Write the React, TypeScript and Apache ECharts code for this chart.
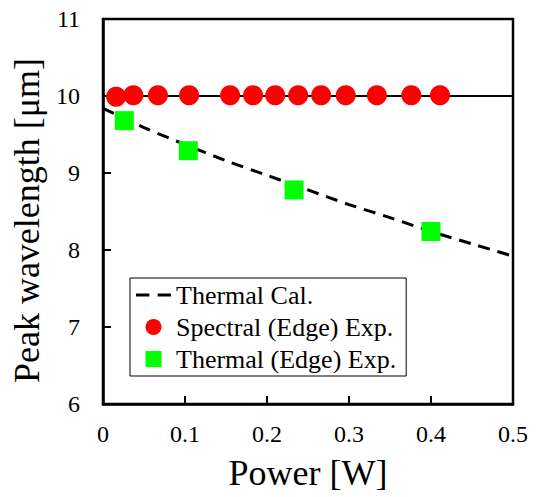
import React, { useEffect, useRef } from "react";
import * as echarts from "echarts";

// Data
const spectralPower = [0.016, 0.037, 0.067, 0.105, 0.155, 0.183, 0.21, 0.238, 0.266, 0.296, 0.334, 0.376, 0.411];
const spectralPeak = [9.99, 10.01, 10.01, 10.01, 10.01, 10.01, 10.01, 10.01, 10.01, 10.01, 10.01, 10.01, 10.01];

const thermalExpPower = [0.026, 0.104, 0.233, 0.4];
const thermalExpPeak = [9.68, 9.29, 8.78, 8.24];

const calPower = [0, 0.05, 0.1, 0.15, 0.2, 0.25, 0.3, 0.35, 0.4, 0.45, 0.5];
const calPeak = [9.84, 9.59, 9.37, 9.16, 8.97, 8.78, 8.59, 8.42, 8.24, 8.08, 7.92];

const refPower = [0, 0.5];
const refPeak = [10, 10];

const xTicks = [0, 0.1, 0.2, 0.3, 0.4, 0.5];
const yTicks = [6, 7, 8, 9, 10, 11];

const seriesNames = ["Thermal Cal.", "Spectral (Edge) Exp.", "Thermal (Edge) Exp."];

const FONT = "Liberation Serif";

export default function App() {
  const ref = useRef<HTMLDivElement>(null);

  useEffect(() => {
    document.body.style.margin = "0";
    if (!ref.current) return;
    const chart = echarts.init(ref.current, undefined, { renderer: "svg" });
    const zip = (xs: number[], ys: number[]) => xs.map((x, i) => [x, ys[i]]);
    chart.setOption({
      animation: false,
      backgroundColor: "#ffffff",
      textStyle: { fontFamily: FONT },
      grid: {
        left: 103,
        top: 19,
        right: 26,
        bottom: 93,
        show: true,
        borderColor: "#000",
        borderWidth: 2.5,
        containLabel: false,
      },
      xAxis: {
        type: "value",
        min: xTicks[0],
        max: xTicks[xTicks.length - 1],
        interval: 0.1,
        name: "Power [W]",
        nameLocation: "middle",
        nameGap: 51,
        nameTextStyle: { fontFamily: FONT, fontSize: 36, color: "#000" },
        axisLine: { show: true, onZero: false, lineStyle: { color: "#000", width: 2.5 } },
        axisTick: { show: true, inside: true, length: 8, lineStyle: { color: "#000", width: 2 } },
        axisLabel: {
          fontFamily: FONT,
          fontSize: 24,
          color: "#000",
          margin: 18,
          formatter: (v: number) => String(Math.round(v * 10) / 10),
        },
        splitLine: { show: false },
      },
      yAxis: {
        type: "value",
        min: yTicks[0],
        max: yTicks[yTicks.length - 1],
        interval: 1,
        name: "Peak wavelength [μm]",
        nameLocation: "middle",
        nameGap: 53,
        nameTextStyle: { fontFamily: FONT, fontSize: 36, color: "#000", padding: [0, 18, 0, 0] },
        axisLine: { show: true, onZero: false, lineStyle: { color: "#000", width: 2.5 } },
        axisTick: { show: true, inside: true, length: 8, lineStyle: { color: "#000", width: 2 } },
        axisLabel: { fontFamily: FONT, fontSize: 24, color: "#000", margin: 23 },
        splitLine: { show: false },
      },
      legend: {
        orient: "vertical",
        left: 130,
        top: 278,
        itemWidth: 35,
        itemHeight: 16,
        itemGap: 6,
        padding: [4, 10, 4, 6],
        borderColor: "#000",
        borderWidth: 1,
        backgroundColor: "#fff",
        symbolKeepAspect: true,
        textStyle: { fontFamily: FONT, fontSize: 26, color: "#000" },
        data: [
          { name: seriesNames[0], icon: "path://M0,0H13V3H0Z M21,0H34V3H21Z", itemStyle: { color: "#000" } },
          { name: seriesNames[1], icon: "circle" },
          { name: seriesNames[2], icon: "path://M0,0H10V10H0Z" },
        ],
      },
      series: [
        {
          name: "ref",
          type: "line",
          data: zip(refPower, refPeak),
          symbol: "none",
          showSymbol: false,
          lineStyle: { color: "#000", width: 1.8 },
          z: 1,
          silent: true,
        },
        {
          name: seriesNames[0],
          type: "line",
          data: zip(calPower, calPeak),
          symbol: "none",
          showSymbol: false,
          smooth: 0.3,
          lineStyle: { color: "#000", width: 3, type: [12, 8] },
          itemStyle: { color: "#000" },
          z: 2,
        },
        {
          name: seriesNames[1],
          type: "scatter",
          data: zip(spectralPower, spectralPeak),
          symbol: "circle",
          symbolSize: 20,
          itemStyle: { color: "#ff0000", opacity: 1 },
          z: 3,
        },
        {
          name: seriesNames[2],
          type: "scatter",
          data: zip(thermalExpPower, thermalExpPeak),
          symbol: "rect",
          symbolSize: 19,
          itemStyle: { color: "#00ff00", opacity: 1 },
          z: 3,
        },
      ],
    });
    return () => chart.dispose();
  }, []);

  return <div ref={ref} style={{ width: 539, height: 497 }} />;
}
